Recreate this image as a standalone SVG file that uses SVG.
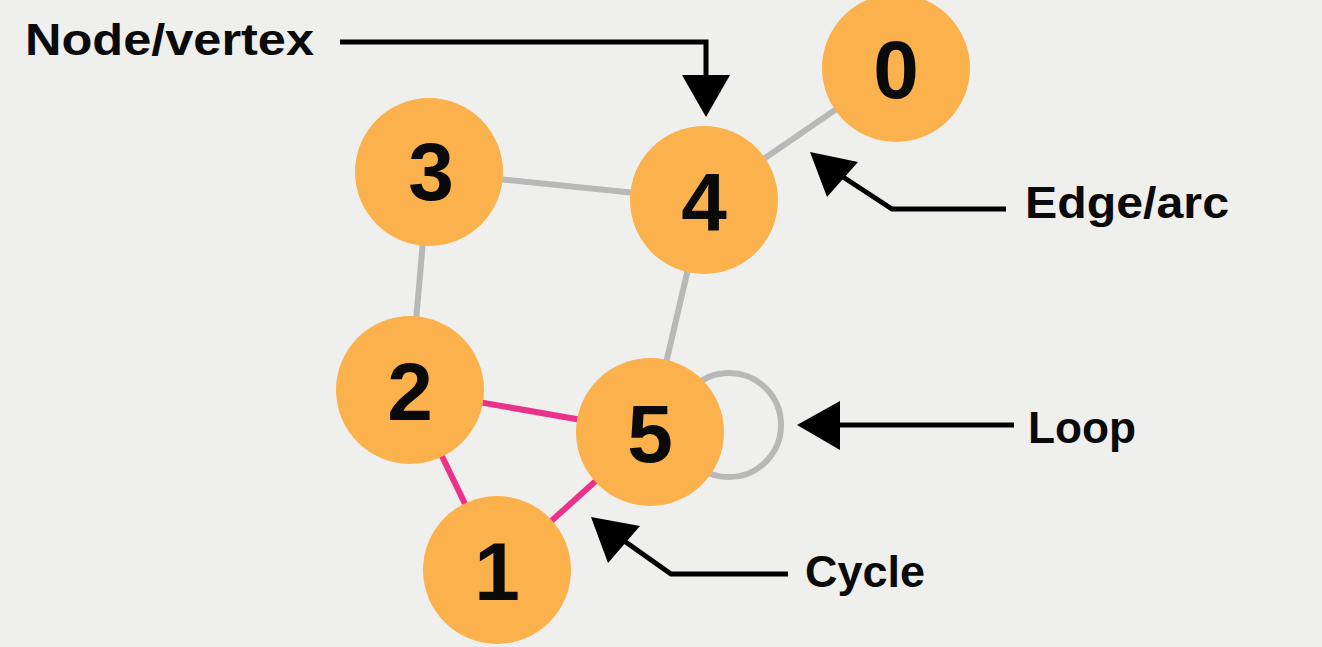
<svg xmlns="http://www.w3.org/2000/svg" width="1322" height="647" viewBox="0 0 1322 647">
<style>
.edge{stroke:#b8b8b8;stroke-width:6;fill:none}
.cyc{stroke:#eb3189;stroke-width:6;fill:none}
.node{fill:#fbb24c}
.num{font-family:"Liberation Sans",Arial,sans-serif;font-weight:bold;font-size:82px;fill:#0a0a0a;text-anchor:middle}
.lbl{font-family:"Liberation Sans",Arial,sans-serif;font-weight:bold;font-size:45px;fill:#0a0a0a}
.ptr{stroke:#000;stroke-width:5;fill:none}
.head{fill:#000}
</style>
<rect width="1322" height="647" fill="#efefed"/>
<g id="connectors">
<line class="edge" x1="896" y1="68" x2="704" y2="200"/>
<line class="edge" x1="429" y1="172" x2="704" y2="200"/>
<line class="edge" x1="429" y1="172" x2="410" y2="390"/>
<line class="edge" x1="704" y1="200" x2="650" y2="432"/>
<circle class="edge" cx="729" cy="425" r="52"/>
<line class="cyc" x1="410" y1="390" x2="650" y2="432"/>
<line class="cyc" x1="410" y1="390" x2="497" y2="570"/>
<line class="cyc" x1="650" y1="432" x2="497" y2="570"/>
</g>
<g id="node0"><circle class="node" cx="896" cy="68" r="74"/><text class="num" x="896" y="98">0</text></g>
<g id="node1"><circle class="node" cx="497" cy="570" r="74"/><text class="num" x="497" y="600">1</text></g>
<g id="node2"><circle class="node" cx="410" cy="390" r="74"/><text class="num" x="410" y="420">2</text></g>
<g id="node3"><circle class="node" cx="429" cy="172" r="74"/><text class="num" x="431" y="200">3</text></g>
<g id="node4"><circle class="node" cx="704" cy="200" r="74"/><text class="num" x="704" y="230">4</text></g>
<g id="node5"><circle class="node" cx="650" cy="432" r="74"/><text class="num" x="650" y="462">5</text></g>
<g id="annotations">
<polyline class="ptr" points="340,42 706,42 706,80"/>
<polygon class="head" points="682,75 730,75 706,117"/>
<text class="lbl" x="25" y="55" textLength="289" lengthAdjust="spacingAndGlyphs">Node/vertex</text>
<polyline class="ptr" points="1006,209 892,209 840,175"/>
<polygon class="head" points="810,152 858,162 827,197"/>
<text class="lbl" x="1025" y="218" textLength="204" lengthAdjust="spacingAndGlyphs">Edge/arc</text>
<line class="ptr" x1="1014" y1="425" x2="835" y2="425"/>
<polygon class="head" points="797,425 840,401 840,450"/>
<text class="lbl" x="1028" y="443" textLength="108" lengthAdjust="spacingAndGlyphs">Loop</text>
<polyline class="ptr" points="788,574 671,574 620,538"/>
<polygon class="head" points="591,517 640,526 608,563"/>
<text class="lbl" x="805" y="587" textLength="120" lengthAdjust="spacingAndGlyphs">Cycle</text>
</g>
</svg>
